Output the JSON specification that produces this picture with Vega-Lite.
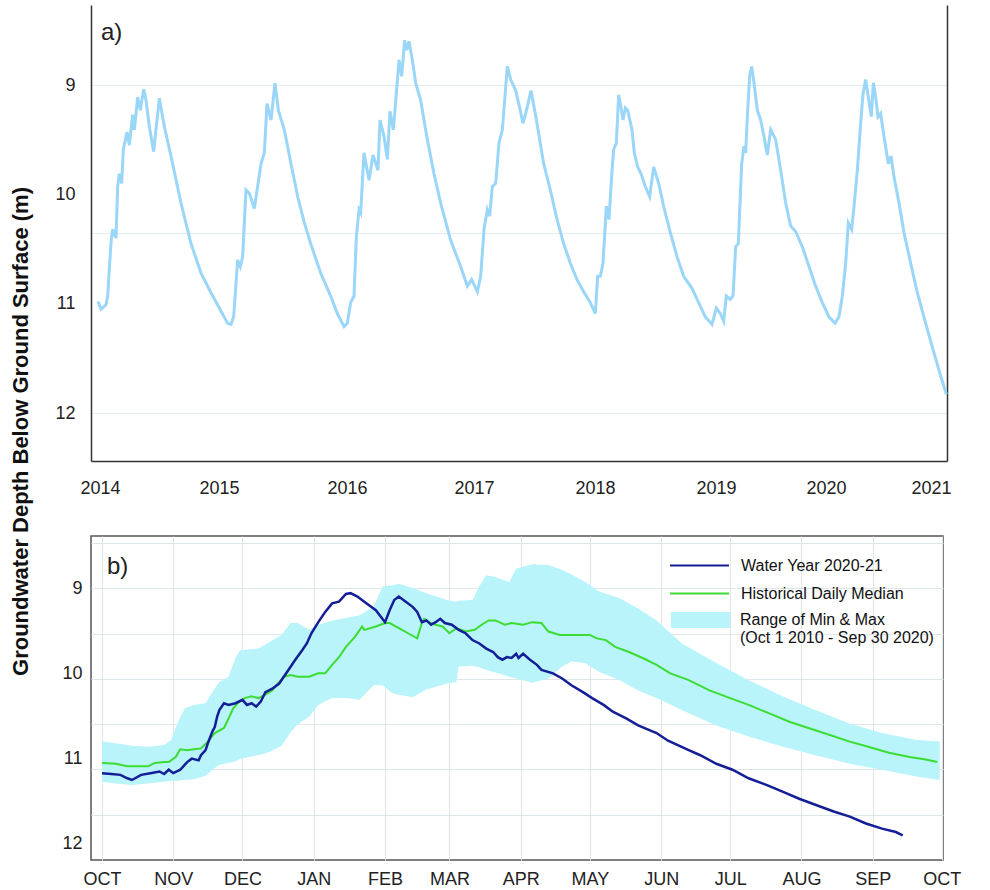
{
"$schema": "https://vega.github.io/schema/vega-lite/v6.json",
"background": "white",
"padding": {"left": 9, "top": 5, "right": 0, "bottom": 0},
"autosize": {"type": "pad"},
"bounds": "flush",
"spacing": 75,
"config": {
  "font": "Liberation Sans",
  "view": {"stroke": null},
  "axis": {"labelFont": "Liberation Sans", "labelFontSize": 18, "labelColor": "#222", "ticks": false, "titleFont": "Liberation Sans"},
  "legend": {"labelFont": "Liberation Sans"}
},
"datasets": {
"hist": [
{"date":"2014-10-01","depth":10.98},{"date":"2014-10-10","depth":11.05},{"date":"2014-10-25","depth":11.01},{"date":"2014-10-30","depth":10.93},{"date":"2014-11-09","depth":10.44},{"date":"2014-11-14","depth":10.32},{"date":"2014-11-24","depth":10.40},{"date":"2014-11-29","depth":9.93},{"date":"2014-12-04","depth":9.81},{"date":"2014-12-11","depth":9.90},{"date":"2014-12-16","depth":9.59},{"date":"2014-12-27","depth":9.43},{"date":"2015-01-03","depth":9.55},{"date":"2015-01-13","depth":9.27},{"date":"2015-01-18","depth":9.41},{"date":"2015-01-28","depth":9.11},{"date":"2015-02-05","depth":9.23},{"date":"2015-02-15","depth":9.04},{"date":"2015-02-22","depth":9.14},{"date":"2015-03-04","depth":9.38},{"date":"2015-03-17","depth":9.61},{"date":"2015-04-03","depth":9.12},{"date":"2015-04-18","depth":9.38},{"date":"2015-05-08","depth":9.65},{"date":"2015-06-07","depth":10.08},{"date":"2015-07-07","depth":10.45},{"date":"2015-08-06","depth":10.72},{"date":"2015-09-05","depth":10.90},
{"date":"2015-10-05","depth":11.07},{"date":"2015-10-25","depth":11.18},{"date":"2015-11-04","depth":11.19},{"date":"2015-11-12","depth":11.12},{"date":"2015-11-24","depth":10.60},{"date":"2015-12-02","depth":10.66},{"date":"2015-12-09","depth":10.57},{"date":"2015-12-19","depth":9.96},{"date":"2015-12-29","depth":9.99},{"date":"2016-01-13","depth":10.13},{"date":"2016-02-02","depth":9.72},{"date":"2016-02-12","depth":9.62},{"date":"2016-02-20","depth":9.17},{"date":"2016-03-03","depth":9.32},{"date":"2016-03-15","depth":8.98},{"date":"2016-03-25","depth":9.23},{"date":"2016-04-12","depth":9.41},{"date":"2016-05-02","depth":9.72},{"date":"2016-05-22","depth":10.02},{"date":"2016-06-10","depth":10.25},{"date":"2016-06-30","depth":10.45},{"date":"2016-07-30","depth":10.72},{"date":"2016-08-29","depth":10.93},{"date":"2016-09-18","depth":11.09},
{"date":"2016-10-08","depth":11.21},{"date":"2016-10-18","depth":11.18},{"date":"2016-10-28","depth":10.99},{"date":"2016-11-07","depth":10.93},{"date":"2016-11-14","depth":10.39},{"date":"2016-11-22","depth":10.14},{"date":"2016-11-27","depth":10.17},{"date":"2016-12-07","depth":9.62},{"date":"2016-12-22","depth":9.87},{"date":"2017-01-03","depth":9.64},{"date":"2017-01-18","depth":9.78},{"date":"2017-01-24","depth":9.32},{"date":"2017-02-05","depth":9.47},{"date":"2017-02-15","depth":9.68},{"date":"2017-02-23","depth":9.24},{"date":"2017-03-05","depth":9.41},{"date":"2017-03-12","depth":9.15},{"date":"2017-03-22","depth":8.77},{"date":"2017-03-30","depth":8.92},{"date":"2017-04-08","depth":8.59},{"date":"2017-04-14","depth":8.68},{"date":"2017-04-21","depth":8.60},{"date":"2017-05-01","depth":8.77},{"date":"2017-05-11","depth":8.98},{"date":"2017-05-26","depth":9.14},{"date":"2017-06-15","depth":9.50},{"date":"2017-07-05","depth":9.81},{"date":"2017-07-25","depth":10.08},{"date":"2017-08-24","depth":10.42},{"date":"2017-09-23","depth":10.66},
{"date":"2017-10-13","depth":10.84},{"date":"2017-10-26","depth":10.78},{"date":"2017-11-12","depth":10.89},{"date":"2017-11-22","depth":10.75},{"date":"2017-12-02","depth":10.32},{"date":"2017-12-12","depth":10.14},{"date":"2017-12-19","depth":10.20},{"date":"2017-12-27","depth":9.93},{"date":"2018-01-06","depth":9.90},{"date":"2018-01-16","depth":9.53},{"date":"2018-01-26","depth":9.41},{"date":"2018-02-10","depth":8.83},{"date":"2018-02-20","depth":8.95},{"date":"2018-03-07","depth":9.05},{"date":"2018-03-20","depth":9.22},{"date":"2018-03-29","depth":9.35},{"date":"2018-04-07","depth":9.25},{"date":"2018-04-22","depth":9.05},{"date":"2018-05-10","depth":9.35},{"date":"2018-05-30","depth":9.72},{"date":"2018-06-19","depth":9.96},{"date":"2018-07-09","depth":10.23},{"date":"2018-07-29","depth":10.45},{"date":"2018-08-18","depth":10.63},{"date":"2018-09-07","depth":10.78},{"date":"2018-09-27","depth":10.89},
{"date":"2018-10-17","depth":10.99},{"date":"2018-11-01","depth":11.09},{"date":"2018-11-08","depth":10.75},{"date":"2018-11-16","depth":10.75},{"date":"2018-11-24","depth":10.63},{"date":"2018-12-04","depth":10.11},{"date":"2018-12-12","depth":10.23},{"date":"2018-12-21","depth":9.78},{"date":"2018-12-26","depth":9.59},{"date":"2019-01-03","depth":9.53},{"date":"2019-01-10","depth":9.09},{"date":"2019-01-17","depth":9.20},{"date":"2019-01-23","depth":9.32},{"date":"2019-01-30","depth":9.21},{"date":"2019-02-06","depth":9.23},{"date":"2019-02-19","depth":9.41},{"date":"2019-02-26","depth":9.62},{"date":"2019-03-08","depth":9.75},{"date":"2019-03-18","depth":9.81},{"date":"2019-03-31","depth":9.93},{"date":"2019-04-13","depth":10.02},{"date":"2019-04-25","depth":9.75},{"date":"2019-05-10","depth":9.90},{"date":"2019-05-25","depth":10.11},{"date":"2019-06-14","depth":10.35},{"date":"2019-07-04","depth":10.57},{"date":"2019-07-24","depth":10.75},{"date":"2019-08-18","depth":10.86},{"date":"2019-09-07","depth":10.99},{"date":"2019-09-27","depth":11.12},
{"date":"2019-10-17","depth":11.19},{"date":"2019-10-30","depth":11.04},{"date":"2019-11-11","depth":11.09},{"date":"2019-11-21","depth":11.16},{"date":"2019-11-29","depth":10.93},{"date":"2019-12-11","depth":10.96},{"date":"2019-12-19","depth":10.93},{"date":"2019-12-27","depth":10.48},{"date":"2020-01-04","depth":10.45},{"date":"2020-01-14","depth":9.72},{"date":"2020-01-21","depth":9.56},{"date":"2020-01-26","depth":9.62},{"date":"2020-01-31","depth":9.29},{"date":"2020-02-07","depth":8.92},{"date":"2020-02-13","depth":8.83},{"date":"2020-02-20","depth":8.98},{"date":"2020-03-01","depth":9.23},{"date":"2020-03-11","depth":9.32},{"date":"2020-03-21","depth":9.47},{"date":"2020-03-31","depth":9.64},{"date":"2020-04-10","depth":9.41},{"date":"2020-04-25","depth":9.50},{"date":"2020-05-10","depth":9.78},{"date":"2020-05-25","depth":10.08},{"date":"2020-06-09","depth":10.29},{"date":"2020-06-24","depth":10.34},{"date":"2020-07-14","depth":10.48},{"date":"2020-08-03","depth":10.66},{"date":"2020-08-23","depth":10.84},{"date":"2020-09-12","depth":10.99},
{"date":"2020-10-02","depth":11.12},{"date":"2020-10-20","depth":11.18},{"date":"2020-11-01","depth":11.12},{"date":"2020-11-11","depth":10.93},{"date":"2020-11-21","depth":10.63},{"date":"2020-11-29","depth":10.26},{"date":"2020-12-09","depth":10.32},{"date":"2020-12-16","depth":10.11},{"date":"2020-12-26","depth":9.78},{"date":"2021-01-05","depth":9.35},{"date":"2021-01-12","depth":9.08},{"date":"2021-01-20","depth":8.95},{"date":"2021-01-28","depth":9.11},{"date":"2021-02-06","depth":9.29},{"date":"2021-02-12","depth":8.98},{"date":"2021-02-19","depth":9.11},{"date":"2021-02-26","depth":9.29},{"date":"2021-03-06","depth":9.26},{"date":"2021-03-16","depth":9.47},{"date":"2021-03-29","depth":9.72},{"date":"2021-04-06","depth":9.65},{"date":"2021-04-15","depth":9.84},{"date":"2021-04-30","depth":10.08},{"date":"2021-05-15","depth":10.35},{"date":"2021-06-04","depth":10.63},{"date":"2021-06-24","depth":10.90},{"date":"2021-07-19","depth":11.18},{"date":"2021-08-13","depth":11.45},{"date":"2021-09-02","depth":11.66},{"date":"2021-09-19","depth":11.83}
],
"wy": [
{"date":"2020-10-01","depth":11.17},{"date":"2020-10-05","depth":11.18},{"date":"2020-10-09","depth":11.19},{"date":"2020-10-12","depth":11.23},{"date":"2020-10-14","depth":11.25},{"date":"2020-10-18","depth":11.19},{"date":"2020-10-22","depth":11.17},{"date":"2020-10-26","depth":11.15},{"date":"2020-10-28","depth":11.18},{"date":"2020-10-30","depth":11.13},{"date":"2020-11-01","depth":11.17},{"date":"2020-11-04","depth":11.13},{"date":"2020-11-07","depth":11.04},{"date":"2020-11-09","depth":11.00},{"date":"2020-11-12","depth":11.02},{"date":"2020-11-13","depth":10.96},{"date":"2020-11-15","depth":10.90},{"date":"2020-11-16","depth":10.82},{"date":"2020-11-18","depth":10.68},{"date":"2020-11-19","depth":10.63},{"date":"2020-11-20","depth":10.51},{"date":"2020-11-21","depth":10.43},{"date":"2020-11-23","depth":10.35},{"date":"2020-11-25","depth":10.37},{"date":"2020-11-28","depth":10.35},{"date":"2020-12-01","depth":10.31},{"date":"2020-12-03","depth":10.37},{"date":"2020-12-05","depth":10.35},{"date":"2020-12-07","depth":10.39},{"date":"2020-12-09","depth":10.33},{"date":"2020-12-11","depth":10.22},{"date":"2020-12-14","depth":10.18},{"date":"2020-12-17","depth":10.12},{"date":"2020-12-19","depth":10.04},{"date":"2020-12-21","depth":9.96},{"date":"2020-12-24","depth":9.84},{"date":"2020-12-27","depth":9.73},{"date":"2020-12-29","depth":9.65},{"date":"2020-12-31","depth":9.53},{"date":"2021-01-03","depth":9.40},{"date":"2021-01-06","depth":9.28},{"date":"2021-01-09","depth":9.18},{"date":"2021-01-12","depth":9.16},{"date":"2021-01-15","depth":9.07},{"date":"2021-01-17","depth":9.06},{"date":"2021-01-20","depth":9.10},{"date":"2021-01-23","depth":9.16},{"date":"2021-01-28","depth":9.26},{"date":"2021-02-01","depth":9.40},{"date":"2021-02-03","depth":9.26},{"date":"2021-02-05","depth":9.14},{"date":"2021-02-07","depth":9.10},{"date":"2021-02-10","depth":9.16},{"date":"2021-02-13","depth":9.22},{"date":"2021-02-15","depth":9.28},{"date":"2021-02-17","depth":9.40},{"date":"2021-02-19","depth":9.38},{"date":"2021-02-21","depth":9.43},{"date":"2021-02-23","depth":9.40},{"date":"2021-02-25","depth":9.36},{"date":"2021-02-27","depth":9.41},{"date":"2021-03-02","depth":9.43},{"date":"2021-03-05","depth":9.49},{"date":"2021-03-08","depth":9.53},{"date":"2021-03-11","depth":9.61},{"date":"2021-03-14","depth":9.65},{"date":"2021-03-17","depth":9.71},{"date":"2021-03-20","depth":9.75},{"date":"2021-03-22","depth":9.81},{"date":"2021-03-24","depth":9.84},{"date":"2021-03-26","depth":9.81},{"date":"2021-03-28","depth":9.82},{"date":"2021-03-30","depth":9.77},{"date":"2021-03-31","depth":9.82},{"date":"2021-04-02","depth":9.77},{"date":"2021-04-05","depth":9.84},{"date":"2021-04-08","depth":9.90},{"date":"2021-04-10","depth":9.96},{"date":"2021-04-15","depth":10.00},{"date":"2021-04-19","depth":10.06},{"date":"2021-04-23","depth":10.14},{"date":"2021-04-28","depth":10.22},{"date":"2021-05-02","depth":10.29},{"date":"2021-05-07","depth":10.37},{"date":"2021-05-11","depth":10.45},{"date":"2021-05-17","depth":10.53},{"date":"2021-05-22","depth":10.61},{"date":"2021-05-30","depth":10.70},{"date":"2021-06-04","depth":10.79},{"date":"2021-06-13","depth":10.90},{"date":"2021-06-18","depth":10.96},{"date":"2021-06-25","depth":11.06},{"date":"2021-07-02","depth":11.13},{"date":"2021-07-09","depth":11.23},{"date":"2021-07-17","depth":11.31},{"date":"2021-07-24","depth":11.39},{"date":"2021-07-31","depth":11.47},{"date":"2021-08-07","depth":11.54},{"date":"2021-08-15","depth":11.62},{"date":"2021-08-22","depth":11.68},{"date":"2021-08-29","depth":11.76},{"date":"2021-09-05","depth":11.82},{"date":"2021-09-11","depth":11.86},{"date":"2021-09-14","depth":11.90}
],
"med": [
{"date":"2020-10-01","depth":11.05},{"date":"2020-10-07","depth":11.06},{"date":"2020-10-12","depth":11.09},{"date":"2020-10-17","depth":11.09},{"date":"2020-10-21","depth":11.09},{"date":"2020-10-24","depth":11.05},{"date":"2020-10-28","depth":11.04},{"date":"2020-10-30","depth":11.04},{"date":"2020-11-02","depth":10.98},{"date":"2020-11-04","depth":10.89},{"date":"2020-11-07","depth":10.90},{"date":"2020-11-10","depth":10.89},{"date":"2020-11-13","depth":10.88},{"date":"2020-11-16","depth":10.80},{"date":"2020-11-19","depth":10.70},{"date":"2020-11-23","depth":10.64},{"date":"2020-11-25","depth":10.53},{"date":"2020-11-27","depth":10.41},{"date":"2020-11-29","depth":10.35},{"date":"2020-12-02","depth":10.29},{"date":"2020-12-05","depth":10.27},{"date":"2020-12-08","depth":10.29},{"date":"2020-12-11","depth":10.25},{"date":"2020-12-14","depth":10.20},{"date":"2020-12-17","depth":10.10},{"date":"2020-12-19","depth":10.04},{"date":"2020-12-22","depth":10.02},{"date":"2020-12-25","depth":10.04},{"date":"2020-12-30","depth":10.04},{"date":"2021-01-03","depth":10.00},{"date":"2021-01-06","depth":10.00},{"date":"2021-01-09","depth":9.90},{"date":"2021-01-12","depth":9.81},{"date":"2021-01-15","depth":9.69},{"date":"2021-01-19","depth":9.57},{"date":"2021-01-22","depth":9.45},{"date":"2021-01-23","depth":9.49},{"date":"2021-01-28","depth":9.45},{"date":"2021-02-01","depth":9.41},{"date":"2021-02-03","depth":9.41},{"date":"2021-02-07","depth":9.47},{"date":"2021-02-11","depth":9.53},{"date":"2021-02-15","depth":9.59},{"date":"2021-02-17","depth":9.41},{"date":"2021-02-18","depth":9.36},{"date":"2021-02-20","depth":9.40},{"date":"2021-02-23","depth":9.43},{"date":"2021-02-26","depth":9.45},{"date":"2021-03-01","depth":9.53},{"date":"2021-03-04","depth":9.47},{"date":"2021-03-08","depth":9.51},{"date":"2021-03-12","depth":9.49},{"date":"2021-03-15","depth":9.43},{"date":"2021-03-18","depth":9.38},{"date":"2021-03-21","depth":9.38},{"date":"2021-03-25","depth":9.43},{"date":"2021-03-28","depth":9.41},{"date":"2021-04-02","depth":9.43},{"date":"2021-04-06","depth":9.40},{"date":"2021-04-10","depth":9.41},{"date":"2021-04-13","depth":9.51},{"date":"2021-04-18","depth":9.55},{"date":"2021-04-22","depth":9.55},{"date":"2021-04-26","depth":9.55},{"date":"2021-05-01","depth":9.55},{"date":"2021-05-04","depth":9.59},{"date":"2021-05-08","depth":9.61},{"date":"2021-05-12","depth":9.69},{"date":"2021-05-18","depth":9.75},{"date":"2021-05-24","depth":9.82},{"date":"2021-05-30","depth":9.90},{"date":"2021-06-05","depth":10.00},{"date":"2021-06-13","depth":10.08},{"date":"2021-06-22","depth":10.20},{"date":"2021-07-01","depth":10.29},{"date":"2021-07-09","depth":10.37},{"date":"2021-07-18","depth":10.47},{"date":"2021-07-27","depth":10.57},{"date":"2021-08-04","depth":10.64},{"date":"2021-08-13","depth":10.72},{"date":"2021-08-22","depth":10.80},{"date":"2021-08-30","depth":10.86},{"date":"2021-09-08","depth":10.93},{"date":"2021-09-17","depth":10.98},{"date":"2021-09-24","depth":11.01},{"date":"2021-09-29","depth":11.04}
],
"band": [
{"date":"2020-10-01","lo":10.80,"hi":11.27},{"date":"2020-10-07","lo":10.82,"hi":11.29},{"date":"2020-10-14","lo":10.85,"hi":11.31},{"date":"2020-10-21","lo":10.86,"hi":11.29},{"date":"2020-10-28","lo":10.84,"hi":11.27},{"date":"2020-10-31","lo":10.78,"hi":11.26},{"date":"2020-11-03","lo":10.57,"hi":11.26},{"date":"2020-11-06","lo":10.41,"hi":11.25},{"date":"2020-11-10","lo":10.37,"hi":11.24},{"date":"2020-11-15","lo":10.35,"hi":11.20},{"date":"2020-11-18","lo":10.22,"hi":11.13},{"date":"2020-11-21","lo":10.10,"hi":11.07},{"date":"2020-11-25","lo":10.04,"hi":11.05},{"date":"2020-11-28","lo":9.82,"hi":11.03},{"date":"2020-11-30","lo":9.73,"hi":11.00},{"date":"2020-12-08","lo":9.71,"hi":10.96},{"date":"2020-12-13","lo":9.63,"hi":10.92},{"date":"2020-12-18","lo":9.55,"hi":10.85},{"date":"2020-12-22","lo":9.41,"hi":10.69},{"date":"2020-12-25","lo":9.41,"hi":10.60},{"date":"2020-12-30","lo":9.49,"hi":10.51},{"date":"2021-01-03","lo":9.43,"hi":10.37},{"date":"2021-01-09","lo":9.38,"hi":10.29},{"date":"2021-01-15","lo":9.35,"hi":10.29},{"date":"2021-01-21","lo":9.32,"hi":10.31},{"date":"2021-01-27","lo":9.22,"hi":10.14},{"date":"2021-01-31","lo":8.98,"hi":10.14},{"date":"2021-02-04","lo":8.97,"hi":10.23},{"date":"2021-02-07","lo":8.95,"hi":10.25},{"date":"2021-02-13","lo":9.00,"hi":10.28},{"date":"2021-02-19","lo":9.06,"hi":10.19},{"date":"2021-02-28","lo":9.14,"hi":10.12},{"date":"2021-03-04","lo":9.16,"hi":10.10},{"date":"2021-03-05","lo":9.15,"hi":9.92},{"date":"2021-03-11","lo":9.14,"hi":9.91},{"date":"2021-03-14","lo":8.98,"hi":9.93},{"date":"2021-03-17","lo":8.85,"hi":9.96},{"date":"2021-03-21","lo":8.87,"hi":9.99},{"date":"2021-03-27","lo":8.93,"hi":10.04},{"date":"2021-03-30","lo":8.77,"hi":10.06},{"date":"2021-04-06","lo":8.72,"hi":10.11},{"date":"2021-04-13","lo":8.73,"hi":10.06},{"date":"2021-04-19","lo":8.79,"hi":9.92},{"date":"2021-04-23","lo":8.84,"hi":9.86},{"date":"2021-04-29","lo":8.93,"hi":9.88},{"date":"2021-05-05","lo":9.04,"hi":9.98},{"date":"2021-05-14","lo":9.12,"hi":10.08},{"date":"2021-05-22","lo":9.24,"hi":10.20},{"date":"2021-05-30","lo":9.38,"hi":10.29},{"date":"2021-06-10","lo":9.65,"hi":10.43},{"date":"2021-06-25","lo":9.88,"hi":10.61},{"date":"2021-07-09","lo":10.08,"hi":10.74},{"date":"2021-07-24","lo":10.27,"hi":10.86},{"date":"2021-08-07","lo":10.43,"hi":10.96},{"date":"2021-08-22","lo":10.59,"hi":11.06},{"date":"2021-09-05","lo":10.70,"hi":11.13},{"date":"2021-09-20","lo":10.78,"hi":11.21},{"date":"2021-09-30","lo":10.80,"hi":11.25}
]
},
"vconcat": [
{
  "width": 856,
  "height": 456,
  "title": {"text": "a)", "anchor": "start", "frame": "group", "orient": "top", "offset": -64, "dx": 10, "fontSize": 24, "fontWeight": "normal", "font": "Liberation Sans", "color": "#222", "baseline": "bottom"},
  "data": {"name": "hist"},
  "layer": [
    {
      "mark": {"type": "line", "color": "#9ad6f8", "strokeWidth": 3},
      "encoding": {
        "x": {"field": "date", "type": "temporal",
              "scale": {"type": "utc", "domain": [{"year": 2014, "month": 9, "date": 10, "utc": true}, {"year": 2021, "month": 9, "date": 21, "utc": true}]},
              "axis": {"title": null, "grid": false, "format": "%Y", "labelPadding": 18, "domainColor": "#333", "domainWidth": 1.5,
                       "values": [{"year": 2014, "month": 10, "date": 7, "utc": true}, {"year": 2015, "month": 9, "date": 29, "utc": true}, {"year": 2016, "month": 10, "date": 17, "utc": true}, {"year": 2017, "month": 11, "date": 2, "utc": true}, {"year": 2018, "month": 10, "date": 31, "utc": true}, {"year": 2019, "month": 10, "date": 29, "utc": true}, {"year": 2020, "month": 9, "date": 23, "utc": true}, {"year": 2021, "month": 8, "date": 4, "utc": true}]}},
        "y": {"field": "depth", "type": "quantitative",
              "scale": {"domain": [8.268, 12.439], "reverse": true, "nice": false, "zero": false},
              "axis": {"orient": "left", "values": [9, 10, 11, 12], "grid": false, "labelPadding": 16, "domainColor": "#333", "domainWidth": 1.5,
                       "title": "Groundwater Depth Below Ground Surface (m)", "titleFontSize": 22, "titleFontWeight": "bold", "titleColor": "#111",
                       "titleX": -58.5, "titleY": 426, "titleAngle": 270, "titleAlign": "center", "titleBaseline": "bottom"}}
      }
    },
    {
      "mark": {"type": "line", "opacity": 0},
      "encoding": {
        "x": {"field": "date", "type": "temporal"},
        "y": {"field": "depth", "type": "quantitative",
              "axis": {"orient": "right", "labels": false, "title": null, "values": [9, 10.35, 12], "grid": true, "gridColor": "#e4ecef", "domainColor": "#333", "domainWidth": 1.5}}
      }
    }
  ],
  "resolve": {"axis": {"y": "independent"}}
},
{
  "width": 852,
  "height": 324,
  "view": {"stroke": "#555", "strokeWidth": 1.5},
  "title": {"text": "b)", "anchor": "start", "frame": "group", "orient": "top", "offset": -67, "dx": 16, "fontSize": 24, "fontWeight": "normal", "font": "Liberation Sans", "color": "#222", "baseline": "bottom"},
  "layer": [
    {
      "data": {"name": "band"},
      "mark": {"type": "area"},
      "encoding": {
        "x": {"field": "date", "type": "temporal",
              "scale": {"type": "utc", "domain": [{"year": 2020, "month": 9, "date": 26, "hours": 5, "utc": true}, {"year": 2021, "month": 10, "date": 1, "hours": 12, "utc": true}]},
              "axis": {"title": null, "grid": true, "gridColor": "#dfe6ea", "domain": false, "labelPadding": 10,
                       "labelExpr": "upper(utcFormat(datum.value, '%b'))",
                       "values": [{"year": 2020, "month": 10, "date": 1, "utc": true}, {"year": 2020, "month": 11, "date": 1, "utc": true}, {"year": 2020, "month": 12, "date": 1, "utc": true}, {"year": 2021, "month": 1, "date": 1, "utc": true}, {"year": 2021, "month": 2, "date": 1, "utc": true}, {"year": 2021, "month": 3, "date": 1, "utc": true}, {"year": 2021, "month": 4, "date": 1, "utc": true}, {"year": 2021, "month": 5, "date": 1, "utc": true}, {"year": 2021, "month": 6, "date": 1, "utc": true}, {"year": 2021, "month": 7, "date": 1, "utc": true}, {"year": 2021, "month": 8, "date": 1, "utc": true}, {"year": 2021, "month": 9, "date": 1, "utc": true}, {"year": 2021, "month": 10, "date": 1, "utc": true}]}},
        "y": {"field": "lo", "type": "quantitative",
              "scale": {"domain": [8.39, 12.188], "reverse": true, "nice": false, "zero": false},
              "axis": {"orient": "left", "values": [9, 10, 11, 12], "grid": false, "domain": false, "labelPadding": 9, "title": null}},
        "y2": {"field": "hi"},
        "fill": {"datum": "Range of Min & Max|(Oct 1 2010 - Sep 30 2020)", "scale": {"range": ["#b8f4fa"]},
                 "legend": {"orient": "none", "legendX": 580, "legendY": 585.5, "title": null, "padding": 0,
                            "symbolType": "M-1,-0.27H1V0.27H-1Z", "symbolSize": 3481, "symbolStrokeWidth": 0, "symbolOpacity": 1,
                            "labelFontSize": 16, "labelColor": "#111", "labelOffset": 10, "labelLimit": 400, "labelExpr": "split(datum.label, '|')"}}
      }
    },
    {
      "data": {"name": "med"},
      "mark": {"type": "line", "strokeWidth": 2},
      "encoding": {
        "x": {"field": "date", "type": "temporal"},
        "y": {"field": "depth", "type": "quantitative",
              "axis": {"orient": "right", "labels": false, "domain": false, "title": null, "grid": true, "gridColor": "#dfe6ea", "values": [8.476, 9, 9.536, 10.07, 10.598, 11.125, 11.656]}},
        "stroke": {"datum": "Historical Daily Median", "scale": {"range": ["#3cdc32"]},
                   "legend": {"orient": "none", "legendX": 578, "legendY": 558, "title": null, "padding": 0,
                              "symbolType": "stroke", "symbolSize": 3481, "symbolStrokeWidth": 2,
                              "labelFontSize": 16, "labelColor": "#111", "labelOffset": 11, "labelLimit": 400}}
      }
    },
    {
      "data": {"name": "wy"},
      "mark": {"type": "line", "strokeWidth": 2.5},
      "encoding": {
        "x": {"field": "date", "type": "temporal"},
        "y": {"field": "depth", "type": "quantitative", "axis": null},
        "color": {"datum": "Water Year 2020-21", "scale": {"range": ["#141e96"]},
                  "legend": {"orient": "none", "legendX": 578, "legendY": 530, "title": null, "padding": 0,
                             "symbolType": "stroke", "symbolSize": 3481, "symbolStrokeWidth": 2,
                             "labelFontSize": 16, "labelColor": "#111", "labelOffset": 11, "labelLimit": 400}}
      }
    }
  ],
  "resolve": {"axis": {"y": "independent"}}
}
]
}
